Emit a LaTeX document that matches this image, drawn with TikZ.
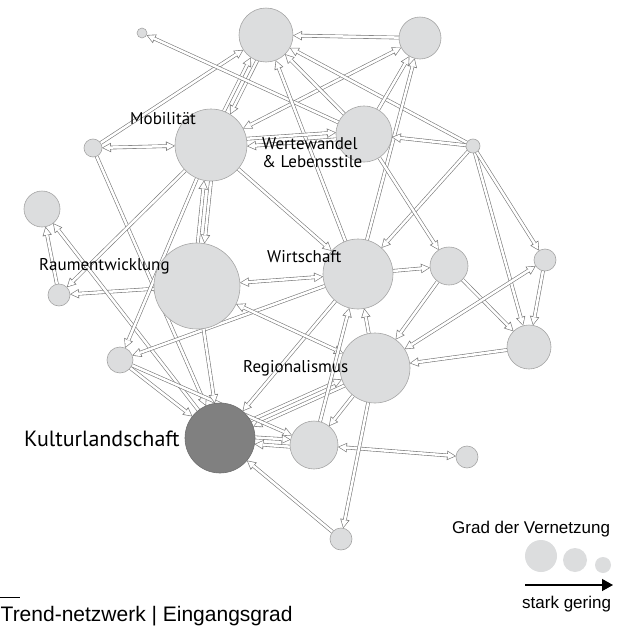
\documentclass[tikz,border=0pt]{standalone}
\usepackage{fontspec}
\setmainfont{Liberation Sans}
\newfontfamily\labelfont{PT Sans}
\usetikzlibrary{arrows.meta,positioning,backgrounds}
\definecolor{nodefill}{RGB}{220,221,222}
\definecolor{nodeline}{RGB}{165,165,165}
\definecolor{linkgray}{RGB}{120,120,120}
\definecolor{kultfill}{RGB}{128,128,128}
\definecolor{kultline}{RGB}{110,110,110}
\tikzset{
	trend/.style={circle,draw=nodeline,fill=nodefill,line width=0.6pt,inner sep=0pt,outer sep=0pt,minimum size=#1},
	focus/.style={trend=#1,fill=kultfill,draw=kultline},
	dot/.style={circle,fill=nodefill,inner sep=0pt,outer sep=0pt,minimum size=#1},
	tag/.style={font=\labelfont\fontsize{17}{18}\selectfont,inner sep=0pt,anchor=base west,align=left},
	legtext/.style={font=\fontsize{17}{19}\selectfont,inner sep=0pt,anchor=base west},
	tie/.style={line width=3.7pt,draw=linkgray,-{Triangle[length=9pt,width=9.5pt,line width=0pt]},
		postaction={draw=white,line width=2.5pt,-{Triangle[length=6.9pt,width=7.2pt,line width=0pt]},shorten >=1.3pt}},
	tiebi/.style={line width=3.7pt,draw=linkgray,
		{Triangle[length=9pt,width=9.5pt,line width=0pt]}-{Triangle[length=9pt,width=9.5pt,line width=0pt]},
		postaction={draw=white,line width=2.5pt,
			{Triangle[length=6.9pt,width=7.2pt,line width=0pt]}-{Triangle[length=6.9pt,width=7.2pt,line width=0pt]},
			shorten >=1.3pt,shorten <=1.3pt}}
}

\begin{document}
\begin{tikzpicture}[x=1pt,y=-1pt]
	\useasboundingbox (0,0) rectangle (633,627);
	\node[trend=54] (t1) at (266,35) {};
	\node[trend=42] (t2) at (420,38) {};
	\node[trend=10] (t0) at (142,33) {};
	\node[trend=72] (mob) at (211,145) {};
	\node[trend=56] (wer) at (364,134) {};
	\node[trend=18] (l1) at (93,148) {};
	\node[trend=14] (r1) at (473,146) {};
	\node[trend=36] (u1) at (42,209) {};
	\node[trend=22] (u2) at (59,295) {};
	\node[trend=86] (rau) at (197,286) {};
	\node[trend=70] (wir) at (358,274) {};
	\node[trend=38] (w1) at (449,266) {};
	\node[trend=22] (w2) at (545,260) {};
	\node[trend=44] (w3) at (529,347) {};
	\node[trend=70] (reg) at (375,368) {};
	\node[trend=26] (l2) at (120,360) {};
	\node[focus=70] (kul) at (220,438) {};
	\node[trend=48] (k1) at (314,445) {};
	\node[trend=22] (k2) at (467,457) {};
	\node[trend=22] (k3) at (341,539) {};
	\begin{scope}[on background layer]
		\draw[tie] (t2) -- (t1);
		\draw[tiebi] (t2) -- (mob);
		\draw[tie] (r1) -- (t1);
		\draw[tie] (l1) -- (t1);
		\draw[tie] (mob.69) -- (t1.236);
		\draw[tie] (t1.251) -- (mob.58);
		\draw[tie] (wer) -- (t0);
		\draw[tie] (wir) -- (t1);
		\draw[tie] (wer) -- (t1);
		\draw[tiebi] (l1) -- (mob);
		\draw[tie] (l1) -- (kul);
		\draw[tie] (mob) -- (u2);
		\draw[tie] (mob.270) -- (rau.80);
		\draw[tie] (rau.89) -- (mob.259);
		\draw[tie] (mob.10) -- (wer.177);
		\draw[tie] (wer.191) -- (mob.-2);
		\draw[tie] (rau) -- (u2);
		\draw[tie] (u2) -- (u1);
		\draw[tie] (kul) -- (u1);
		\draw[tiebi] (rau) -- (wir);
		\draw[tie] (wir) -- (l2);
		\draw[tie] (wir) -- (w1);
		\draw[tie] (wir) -- (t2);
		\draw[tie] (mob) -- (wir);
		\draw[tie] (mob) -- (l2);
		\draw[tie] (r1) -- (wir);
		\draw[tie] (r1) -- (wer);
		\draw[tie] (wer) -- (t2);
		\draw[tie] (wer) -- (w1);
		\draw[tie] (w1) -- (w3);
		\draw[tie] (r1) -- (w3);
		\draw[tie] (r1) -- (w2);
		\draw[tie] (w2) -- (w3);
		\draw[tie] (w1) -- (reg);
		\draw[tiebi] (w2) -- (reg);
		\draw[tie] (w3) -- (reg);
		\draw[tie] (reg) -- (wir);
		\draw[tie] (wir) -- (kul);
		\draw[tie] (kul.30) -- (reg.199);
		\draw[tie] (reg.210) -- (kul.19);
		\draw[tiebi] (rau) -- (reg);
		\draw[tie] (kul.1) -- (k1.167);
		\draw[tie] (k1.184) -- (kul.-10);
		\draw[tie] (reg) -- (k1);
		\draw[tie] (k1) -- (wir);
		\draw[tiebi] (k1) -- (k2);
		\draw[tie] (reg) -- (k3);
		\draw[tie] (k3) -- (kul);
		\draw[tie] (l2) -- (k1);
		\draw[tie] (l2) -- (kul);
		\draw[tie] (rau) -- (kul);
	\end{scope}
	\node[tag] (mobtxt) at (130,124) {Mobilität};
	\node[tag] (wertxt) at (262,167) {Wertewandel\\\& Lebensstile};
	\node[tag] (rautxt) at (39,270) {Raumentwicklung};
	\node[tag] (wirtxt) at (267,262) {Wirtschaft};
	\node[tag] (regtxt) at (243,372) {Regionalismus};
	\node[tag,font=\labelfont\fontsize{22}{24}\selectfont] (kultxt) at (24,446) {Kulturlandschaft};
	\node[legtext] (gradtxt) at (452,533) {Grad der Vernetzung};
	\node[dot=32] (lg1) at (541,556) {};
	\node[dot=24] (lg2) at (575,560) {};
	\node[dot=16] (lg3) at (603,565) {};
	\coordinate (la) at (525,585);
	\coordinate (lb) at (613,585);
	\draw[line width=1.3pt,-{Triangle[length=11pt,width=12pt]}] (la) -- (lb);
	\node[legtext] (skala) at (522,608) {stark gering};
	\draw[line width=0.5pt] (0,597) -- (20,597);
	\node[legtext,font=\fontsize{21}{24}\selectfont] (titel) at (0.5,621) {Trend-netzwerk | Eingangsgrad};
\end{tikzpicture}
\end{document}
